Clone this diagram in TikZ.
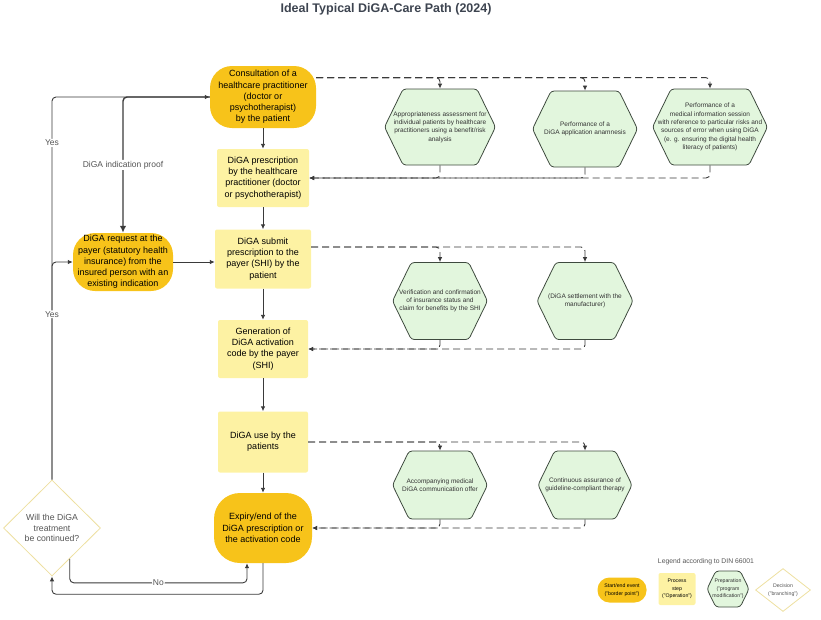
\documentclass[tikz,border=0pt]{standalone}
\usepackage{fontspec}
\setmainfont{Liberation Sans}
\usetikzlibrary{shapes.geometric,shapes.symbols,arrows.meta}
\definecolor{startorange}{HTML}{F7C31A}
\definecolor{stepyellow}{HTML}{FDF2A3}
\definecolor{prepgreen}{HTML}{E2F6DD}
\definecolor{prepline}{HTML}{3E4A3E}
\definecolor{decline}{HTML}{EEE0A0}
\definecolor{titlegray}{HTML}{3D4450}
\definecolor{linegray}{HTML}{3A3A3A}
\definecolor{labelgray}{HTML}{555555}
\begin{document}
\begin{tikzpicture}[x=1pt,y=-1pt,>={Latex[length=5pt,width=4.5pt]}]
 	\def \colmain{263}
 	\def \colhexa{440}
 	\def \colhexb{585}
 	\tikzstyle{e-node}=[rectangle,rounded corners=22pt,fill=startorange,align=center,inner sep=1pt,font=\fontsize{9}{11.3}\selectfont]
 	\tikzstyle{p-node}=[rectangle,rounded corners=2pt,fill=stepyellow,align=center,inner sep=1pt,font=\fontsize{9}{11.3}\selectfont]
 	\tikzstyle{h-node}=[signal,signal to=west and east,signal pointer angle=128,draw=prepline,thick,fill=prepgreen,rounded corners=3pt,align=center,inner xsep=-30pt,inner ysep=-20pt,minimum height=76pt,text=black!80,font=\fontsize{6.5}{8.3}\selectfont]
 	\tikzstyle{d-node}=[diamond,draw=decline,thick,fill=white,align=center,inner sep=0pt,text=labelgray]
 	\tikzstyle{flow}=[draw=linegray,line width=0.9pt,->,rounded corners=4pt]
 	\tikzstyle{dashflow}=[draw=linegray,line width=0.9pt,dash pattern=on 7pt off 4pt,->,rounded corners=4pt]
 	\tikzstyle{annot}=[fill=white,text=labelgray,inner sep=1pt,font=\fontsize{8.5}{10}\selectfont]
 	\useasboundingbox (0,0) rectangle (821,619);
 	\node[text=titlegray,font=\fontsize{12.5}{14}\selectfont\bfseries] (title) at (386,9) {Ideal Typical DiGA-Care Path (2024)};
 	% main path
 	\node[e-node,minimum width=106pt,minimum height=62pt] (consult) at (\colmain,97) {Consultation of a\\healthcare practitioner\\(doctor or\\psychotherapist)\\by the patient};
 	\node[p-node,minimum width=92pt,minimum height=58pt] (presc) at (\colmain,178) {DiGA prescription\\by the healthcare\\practitioner (doctor\\or psychotherapist)};
 	\node[p-node,minimum width=96pt,minimum height=59pt] (submit) at (\colmain,259) {DiGA submit\\prescription to the\\payer (SHI) by the\\patient};
 	\node[e-node,minimum width=100pt,minimum height=58pt] (request) at (123,262) {DiGA request at the\\payer (statutory health\\insurance) from the\\insured person with an\\existing indication};
 	\node[p-node,minimum width=90pt,minimum height=58pt] (gen) at (\colmain,349) {Generation of\\DiGA activation\\code by the payer\\(SHI)};
 	\node[p-node,minimum width=90pt,minimum height=61pt] (use) at (\colmain,442) {DiGA use by the\\patients};
 	\node[e-node,minimum width=98pt,minimum height=70pt,rounded corners=26pt] (expiry) at (\colmain,528) {Expiry/end of the\\DiGA prescription or\\the activation code};
 	\node[d-node,minimum width=97pt,minimum height=96pt,font=\fontsize{8.7}{10.5}\selectfont] (decision) at (52,528) {Will the DiGA\\treatment\\be continued?};
 	% preparation layer
 	\node[h-node,minimum width=111pt] (h1) at (\colhexa,127) {Appropriateness assessment for\\individual patients by healthcare\\practitioners using a benefit/risk\\analysis};
 	\node[h-node,minimum width=105pt] (h2) at (\colhexb,129) {Performance of a\\DiGA application anamnesis};
 	\node[h-node,minimum width=115pt] (h3) at (710,127) {Performance of a\\medical information session\\with reference to particular risks and\\sources of error when using DiGA\\(e. g. ensuring the digital health\\literacy of patients)};
 	\node[h-node,minimum width=95pt,minimum height=77pt] (h4) at (\colhexa,301) {Verification and confirmation\\of insurance status and\\claim for benefits by the SHI};
 	\node[h-node,minimum width=96pt,minimum height=77pt] (h5) at (\colhexb,301) {(DiGA settlement with the\\manufacturer)};
 	\node[h-node,minimum width=95pt,minimum height=68pt] (h6) at (\colhexa,485) {Accompanying medical\\DiGA communication offer};
 	\node[h-node,minimum width=94pt,minimum height=68pt] (h7) at (\colhexb,485) {Continuous assurance of\\guideline-compliant therapy};
 	% legend
 	\node[text=labelgray,font=\fontsize{6.8}{8}\selectfont] (leg-title) at (706,562) {Legend according to DIN 66001};
 	\node[e-node,rounded corners=12pt,minimum width=49pt,minimum height=25pt,font=\fontsize{5.2}{7.5}\selectfont] (leg-event) at (622,590) {Start/end event\\("border point")};
 	\node[p-node,minimum width=37pt,minimum height=32pt,font=\fontsize{5.2}{7.5}\selectfont] (leg-step) at (677,589) {Process\\step\\("Operation")};
 	\node[h-node,minimum width=42pt,minimum height=36pt,font=\fontsize{5.2}{7.5}\selectfont] (leg-prep) at (728,589) {Preparation\\("program\\modification")};
 	\node[d-node,minimum width=55pt,minimum height=43pt,font=\fontsize{5.2}{7.5}\selectfont] (leg-dec) at (783,590) {Decision\\("branching")};
 	% connectors
 	\draw[flow] (consult) -- (presc);
 	\draw[flow] (presc) -- (submit);
 	\draw[flow] (submit) -- (gen);
 	\draw[flow] (gen) -- (use);
 	\draw[flow] (use) -- (expiry);
 	\draw[flow] (request.east) -- (request.east -| submit.west);
 	\draw[flow] (decision.north) |- node[annot,pos=0.44] {Yes} (consult.west);
 	\draw[flow] (decision.north) |- node[annot,pos=0.38] {Yes} (request.west);
 	\draw[flow,line width=1.4pt,>={Latex[length=7pt,width=6.5pt]}] (consult.west) -| node[annot,pos=0.75] {DiGA indication proof} (request.north);
 	\draw[flow] (decision.-60) -- ++(0,24) -| node[annot,pos=0.25] {No} ([xshift=-16pt]expiry.south);
 	\draw[flow] (expiry.south) -- ++(0,31) -| (decision.south);
 	\draw[dashflow] (consult.20) -| (h1.north);
 	\draw[dashflow] (consult.20) -| (h2.north);
 	\draw[dashflow] (consult.20) -| (h3.north);
 	\draw[dashflow] (h1.south) |- (presc.east);
 	\draw[dashflow] (h2.south) |- (presc.east);
 	\draw[dashflow] (h3.south) |- (presc.east);
 	\draw[dashflow] ([yshift=12pt]submit.east) -| (h4.north);
 	\draw[dashflow] ([yshift=12pt]submit.east) -| (h5.north);
 	\draw[dashflow] (h4.south) |- (gen.east);
 	\draw[dashflow] (h5.south) |- (gen.east);
 	\draw[dashflow] (use.east) -| (h6.north);
 	\draw[dashflow] (use.east) -| (h7.north);
 	\draw[dashflow] (h6.south) |- (expiry.east);
 	\draw[dashflow] (h7.south) |- (expiry.east);
\end{tikzpicture}
\end{document}
